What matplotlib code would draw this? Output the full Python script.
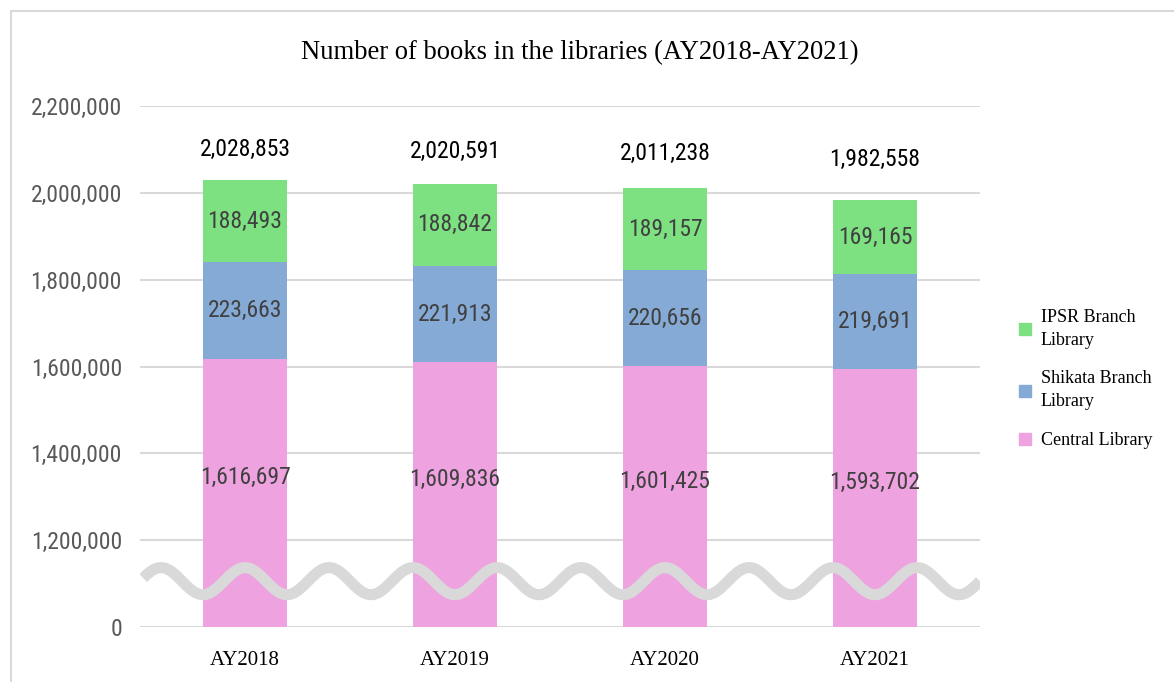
import numpy as np
import matplotlib
matplotlib.use("Agg")
import matplotlib.pyplot as plt
from matplotlib.patches import Rectangle, Patch
from matplotlib.ticker import FuncFormatter
import matplotlib.transforms as mtransforms

# data
years = ["AY2018", "AY2019", "AY2020", "AY2021"]
central = [1616697, 1609836, 1601425, 1593702]
shikata = [223663, 221913, 220656, 219691]
ipsr = [188493, 188842, 189157, 169165]
totals = [2028853, 2020591, 2011238, 1982558]
yticks = [0, 1200000, 1400000, 1600000, 1800000, 2000000, 2200000]

c_central = "#EEA2E0"
c_shikata = "#85AAD5"
c_ipsr = "#7DE182"
grid_c = "#D9D9D9"

num_font = ["Roboto Condensed", "Roboto", "DejaVu Sans"]
serif = ["Liberation Serif", "DejaVu Serif"]
nsize = 17


# broken axis: 0..1.2M squeezed into one step, above that linear
def fwd(v):
    v = np.asarray(v, dtype=float)
    return np.where(v < 1.2e6, v / 6.0, v - 1.0e6)


def inv(a):
    a = np.asarray(a, dtype=float)
    return np.where(a < 2.0e5, a * 6.0, a + 1.0e6)


fig = plt.figure(figsize=(11.74, 6.82), dpi=100)
ax = fig.add_axes([140 / 1174, 1 - 627 / 682, 840 / 1174, 521 / 682])
ax.set_yscale("function", functions=(fwd, inv))

x = np.arange(len(years))
w = 0.4
central = np.array(central)
shikata = np.array(shikata)
ipsr = np.array(ipsr)

ax.bar(x, central, w, color=c_central, zorder=2)
ax.bar(x, shikata, w, bottom=central, color=c_shikata, zorder=2)
ax.bar(x, ipsr, w, bottom=central + shikata, color=c_ipsr, zorder=2)

ax.set_xlim(-0.5, 3.5)
ax.set_ylim(0, 2200000)
ax.set_yticks(yticks)
ax.yaxis.set_major_formatter(FuncFormatter(lambda v, p: f"{int(round(v)):,}"))
ax.grid(axis="y", color=grid_c, linewidth=1.5, zorder=0)
ax.set_axisbelow(True)
for s in ax.spines.values():
    s.set_visible(False)
ax.tick_params(axis="y", length=0, pad=13, labelsize=nsize, labelcolor="#595959")
ax.tick_params(axis="x", length=0, pad=17, labelsize=15)
for t in ax.get_yticklabels():
    t.set_family(num_font)
ax.set_xticks(x)
ax.set_xticklabels(years, family=serif)

# segment labels
for i in range(len(years)):
    ax.text(x[i], (central[i] + 1.07e6) / 2, f"{central[i]:,}", ha="center", va="center",
            fontsize=nsize, color="#404040", family=num_font, zorder=4)
    ax.text(x[i], central[i] + shikata[i] / 2, f"{shikata[i]:,}", ha="center", va="center",
            fontsize=nsize, color="#404040", family=num_font, zorder=4)
    ax.text(x[i], central[i] + shikata[i] + ipsr[i] / 2, f"{ipsr[i]:,}", ha="center", va="center",
            fontsize=nsize, color="#404040", family=num_font, zorder=4)
    ax.text(x[i], (totals[i] + 2.17e6) / 2, f"{totals[i]:,}", ha="center", va="center",
            fontsize=nsize, color="#000000", family=num_font)

# wavy break mark
trans = mtransforms.blended_transform_factory(ax.transData, ax.transAxes)
xw = np.linspace(-0.485, 3.5, 800)
yw = 0.088 + 0.026 * np.cos(2 * np.pi * xw / 0.4)
ax.plot(xw, yw, color=grid_c, linewidth=8, transform=trans, zorder=3, solid_capstyle="butt")

fig.text(0.494, 1 - 53 / 682, "Number of books in the libraries (AY2018-AY2021)",
         ha="center", va="center", fontsize=19.2, family=serif)

handles = [Patch(color=c_ipsr), Patch(color=c_shikata), Patch(color=c_central)]
labels = ["IPSR Branch\nLibrary", "Shikata Branch\nLibrary", "Central Library"]
leg = fig.legend(handles, labels, loc="center left", bbox_to_anchor=(1003 / 1174, 1 - 379 / 682),
                 frameon=False, prop={"family": serif, "size": 13}, handlelength=0.65,
                 handleheight=0.65, handletextpad=0.55, labelspacing=1.2)
for t in leg.get_texts():
    t.set_linespacing(1.45)

fig.patches.append(Rectangle((10.5 / 1174, -0.5), 2.0, 0.5 + 1 - 10.5 / 682,
                             transform=fig.transFigure, fill=False, edgecolor="#D9D9D9",
                             linewidth=1.5))

fig.savefig("out.png", dpi=100)
